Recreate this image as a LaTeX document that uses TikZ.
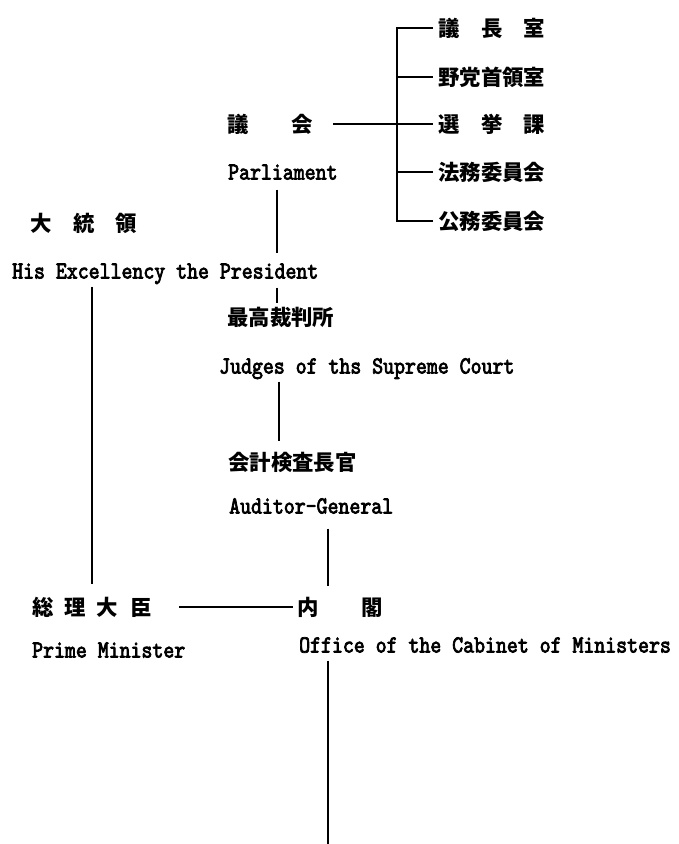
\documentclass[tikz,border=0pt]{standalone}
\usepackage{fontspec}
\newfontfamily\latf[FakeStretch=0.85,FakeBold=3]{lmmono10-regular.otf}
\newfontfamily\cjkf{Noto Sans CJK JP}
\begin{document}
\begin{tikzpicture}[x=1pt,y=-1pt,
  jp/.style={anchor=west,inner sep=0pt,font=\cjkf\bfseries\fontsize{21.4}{24}\selectfont},
  en/.style={anchor=west,inner sep=0pt,text height=15pt,text depth=0pt,font=\latf\fontsize{24.5}{27}\selectfont},
  ln/.style={line width=1.4pt}]
\fill[white] (0,0) rectangle (678,844);
\useasboundingbox (0,0) rectangle (678,844);
% right column
\node[jp] (gicho)  at (438,28)  {議　長　室};
\node[jp] (yato)   at (438,77)  {野党首領室};
\node[jp] (senkyo) at (438,124) {選　挙　課};
\node[jp] (homu)   at (438,172) {法務委員会};
\node[jp] (komu)   at (438,221) {公務委員会};
% parliament
\node[jp] (gikai)  at (227,124) {議　　会};
\node[en] (parl)   at (228,172) {Parliament};
% president
\node[jp] (dai)    at (30,223)  {大　統　領};
\node[en] (pres)   at (12,271)  {His Excellency the President};
% courts
\node[jp] (saiko)  at (227,317) {最高裁判所};
\node[en] (judges) at (219,366) {Judges of ths Supreme Court};
\node[jp] (kaikei) at (228,462) {会計検査長官};
\node[en] (auditor) at (229,506) {Auditor-General};
% cabinet
\node[jp] (sori)   at (32,607)  {総\hspace{11pt}理\hspace{11pt}大\hspace{12pt}臣};
\node[en] (pm)     at (32,650)  {Prime Minister};
\node[jp] (naikaku) at (297,607) {内　　閣};
\node[en] (office) at (299,645) {Office of the Cabinet of Ministers};
% helper coordinates
\coordinate (bx) at (397,0);
\coordinate (vp) at (277,0);
\coordinate (vj) at (279,0);
\coordinate (va) at (328,0);
\coordinate (vl) at (92,0);
\coordinate (bottom) at (328,844);
% bracket
\draw[ln] ([xshift=-5pt]gicho.west) -- (gicho.west -| bx) -- (komu.west -| bx) -- ([xshift=-5pt]komu.west);
\draw[ln] (yato.west -| bx) -- ([xshift=-5pt]yato.west);
\draw[ln] (homu.west -| bx) -- ([xshift=-5pt]homu.west);
\draw[ln,shorten <=20pt,shorten >=5pt] (gikai.east) -- (senkyo.west);
% verticals
\draw[ln,shorten <=10pt,shorten >=10pt] (parl.south -| vp) -- (pres.north -| vp);
\draw[ln,shorten <=9pt,shorten >=4pt] (pres.south -| vp) -- (saiko.north -| vp);
\draw[ln,shorten <=8pt,shorten >=11pt] (judges.south -| vj) -- (kaikei.north -| vj);
\draw[ln,shorten <=15pt,shorten >=11pt] (auditor.south -| va) -- (naikaku.north -| va);
\draw[ln,shorten <=8pt,shorten >=13pt] (pres.south -| vl) -- (sori.north -| vl);
\draw[ln,shorten <=27pt,shorten >=4pt] (sori.east) -- (naikaku.west);
\draw[ln,shorten <=8pt] (office.south -| va) -- (bottom);
\end{tikzpicture}
\end{document}
